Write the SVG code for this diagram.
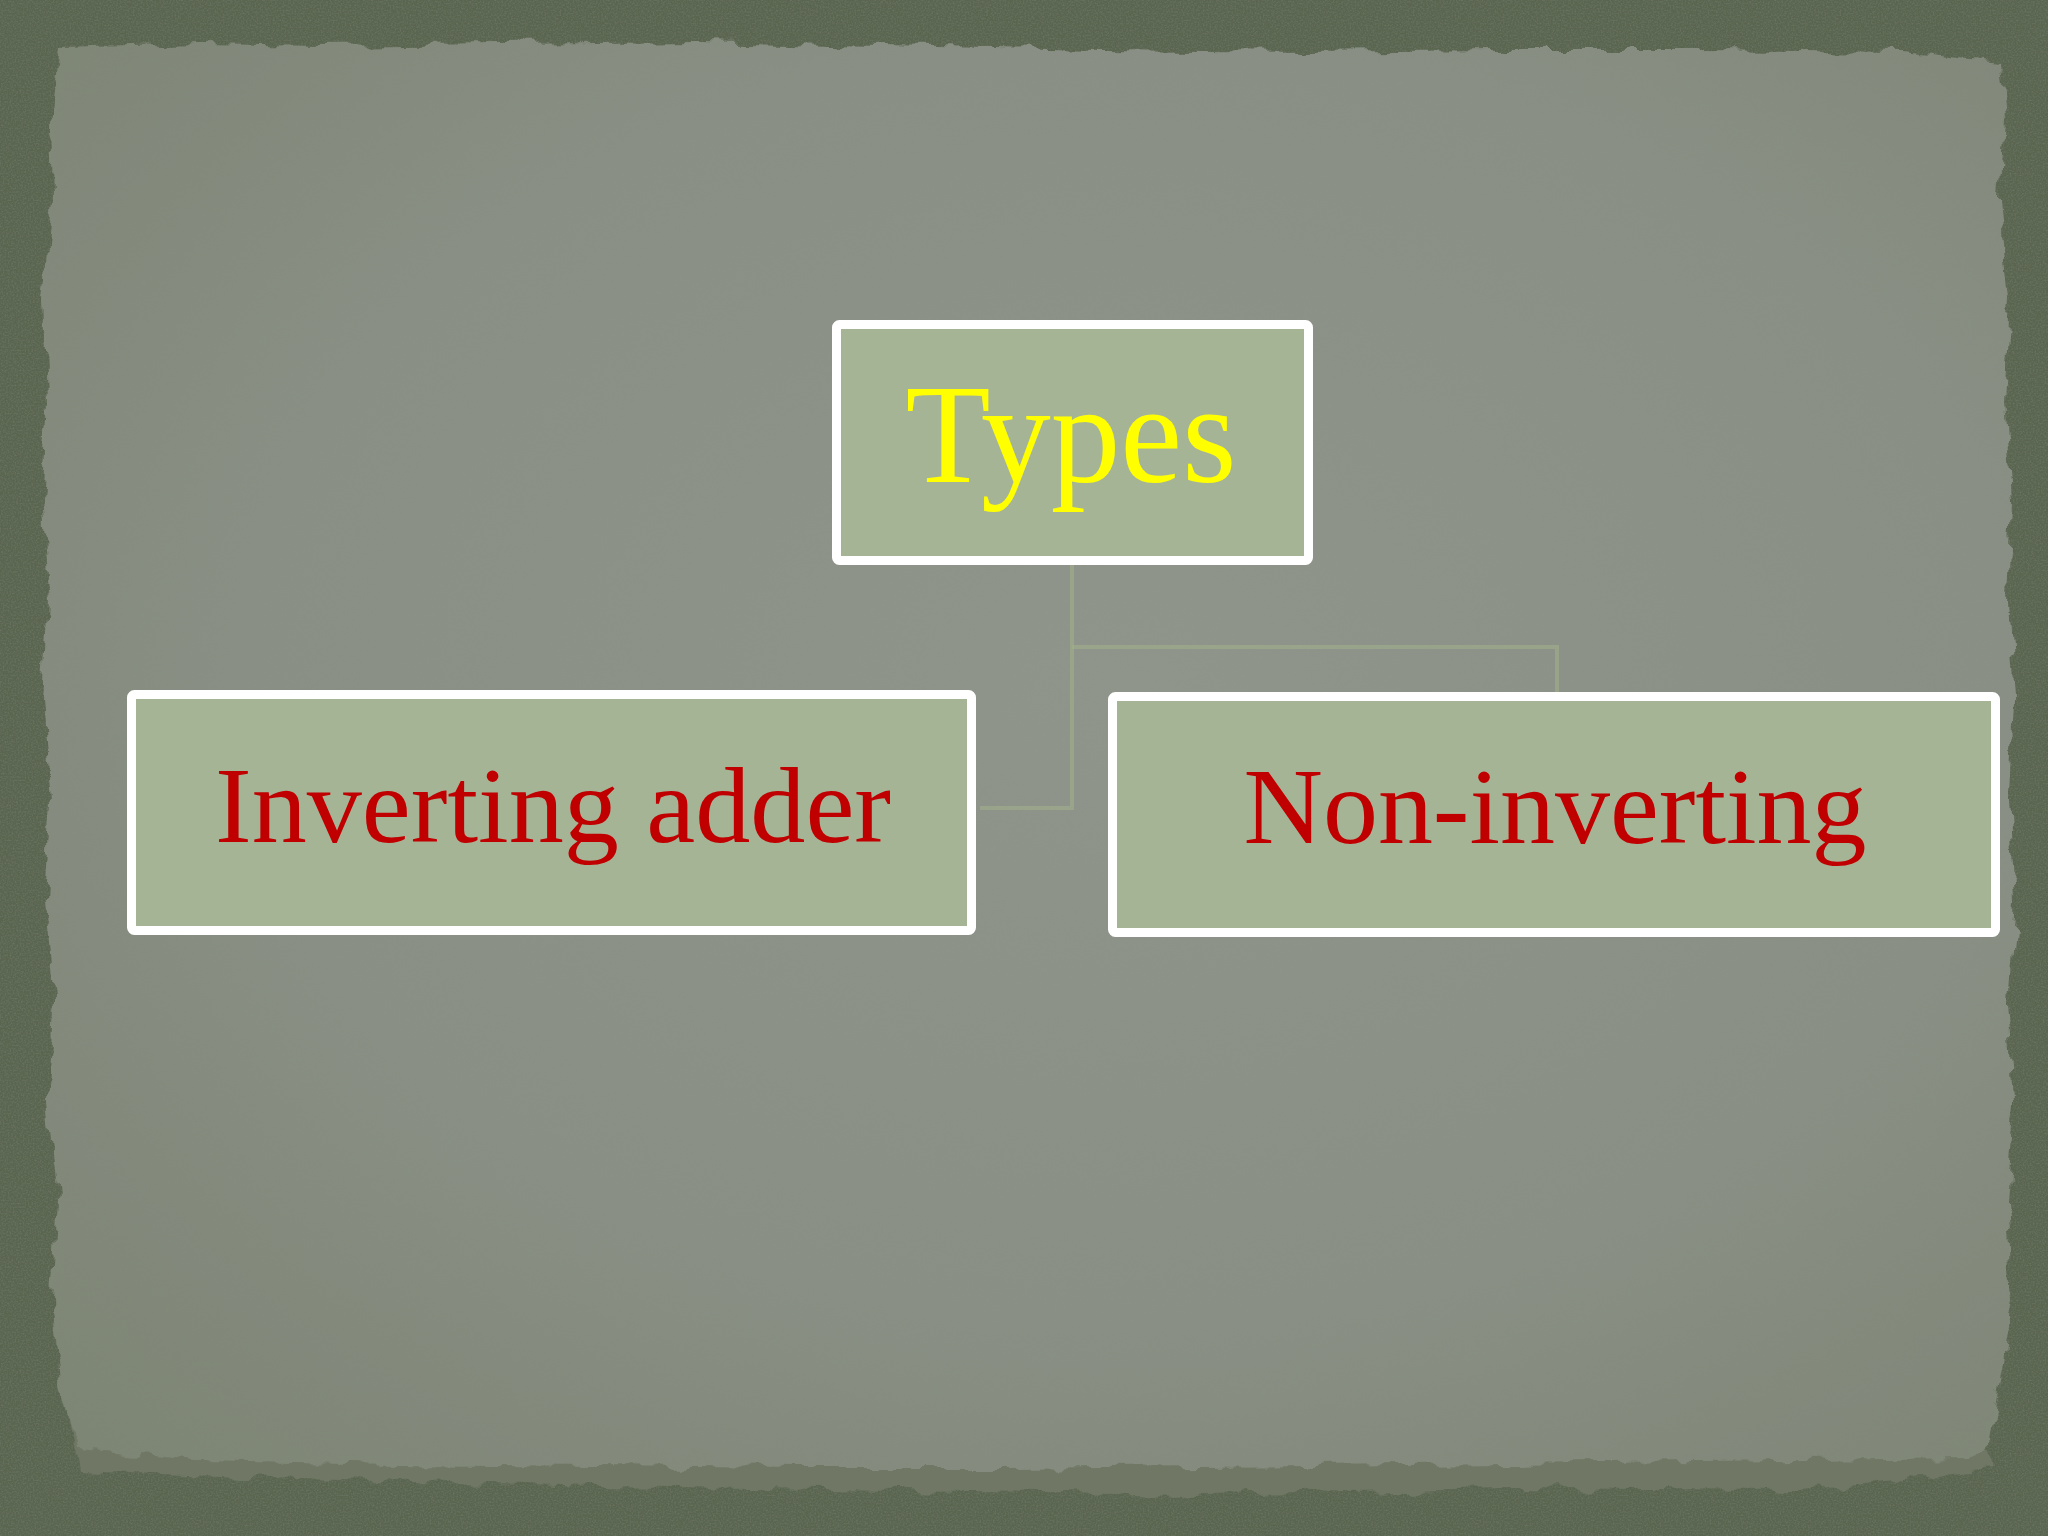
<svg xmlns="http://www.w3.org/2000/svg" width="2048" height="1536" viewBox="0 0 2048 1536">
  <defs>
    <style>
      .box { fill: #a6b496; stroke: #ffffff; stroke-width: 9; }
      .lbl { font-family: "Liberation Serif", "Times New Roman", serif; text-anchor: middle; }
      .red { fill: #c00000; font-size: 108px; }
      .yel { fill: #ffff00; font-size: 142px; }
      .conn { fill: none; stroke: #a2b08c; stroke-width: 4; opacity: 0.55; }
    </style>
    <radialGradient id="paperGrad" cx="0.55" cy="0.45" r="0.75">
      <stop offset="0" stop-color="#8f958b"/>
      <stop offset="0.6" stop-color="#898f84"/>
      <stop offset="1" stop-color="#7d8574"/>
    </radialGradient>
    <filter id="torn" x="-5%" y="-5%" width="110%" height="110%">
      <feTurbulence type="fractalNoise" baseFrequency="0.035" numOctaves="3" seed="4" result="n"/>
      <feDisplacementMap in="SourceGraphic" in2="n" scale="18" xChannelSelector="R" yChannelSelector="G"/>
    </filter>
    <filter id="grain" x="0" y="0" width="100%" height="100%">
      <feTurbulence type="fractalNoise" baseFrequency="0.6" numOctaves="2" seed="7"/>
      <feColorMatrix type="matrix" values="0 0 0 0 0.3  0 0 0 0 0.33  0 0 0 0 0.28  0 0 0 0.9 -0.35"/>
    </filter>
  </defs>

  <!-- dark olive backdrop -->
  <rect x="0" y="0" width="2048" height="1536" fill="#5a6550"/>
  <rect x="0" y="0" width="2048" height="1536" filter="url(#grain)" opacity="0.6"/>

  <!-- lower torn layer -->
  <path d="M70,1420 L300,1440 L600,1450 L900,1458 L1200,1452 L1500,1456 L1800,1448 L1980,1430 L1990,1470 L1800,1490 L1500,1488 L1200,1494 L900,1490 L600,1486 L300,1478 L80,1470 Z" fill="#6f7865" filter="url(#torn)"/>

  <!-- paper -->
  <path d="M60,48 L200,44 L320,46 L500,44 L700,42 L880,46 L1100,50 L1300,52 L1500,50 L1700,50 L1900,52 L2000,62 L2005,120 L2000,200 L2010,300 L2004,400 L2012,500 L2008,600 L2014,700 L2010,800 L2016,900 L2008,1000 L2014,1100 L2006,1200 L2012,1300 L2000,1380 L1990,1440 L1970,1458 L1800,1460 L1600,1462 L1400,1464 L1200,1466 L1000,1468 L800,1468 L600,1466 L400,1464 L200,1460 L80,1450 L60,1380 L52,1300 L58,1200 L48,1100 L55,1000 L46,900 L52,800 L44,700 L50,600 L42,500 L48,400 L44,300 L52,200 L50,120 Z" fill="url(#paperGrad)" filter="url(#torn)"/>

  <!-- connectors -->
  <g id="connectors">
    <path class="conn" d="M1072,565 V808 H980"/>
    <path class="conn" d="M1072,647 H1557 V693"/>
  </g>

  <!-- nodes -->
  <g id="node-types">
    <rect class="box" x="836.5" y="324.5" width="472" height="236" rx="3"/>
    <text class="lbl yel" x="1071" y="482" textLength="331" lengthAdjust="spacingAndGlyphs">Types</text>
  </g>
  <g id="node-inverting">
    <rect class="box" x="131.5" y="694.5" width="840" height="236" rx="3"/>
    <text class="lbl red" x="553" y="842" textLength="676" lengthAdjust="spacingAndGlyphs">Inverting adder</text>
  </g>
  <g id="node-noninverting">
    <rect class="box" x="1112.5" y="696.5" width="883" height="236" rx="3"/>
    <text class="lbl red" x="1555" y="843" textLength="623" lengthAdjust="spacingAndGlyphs">Non-inverting</text>
  </g>
</svg>
